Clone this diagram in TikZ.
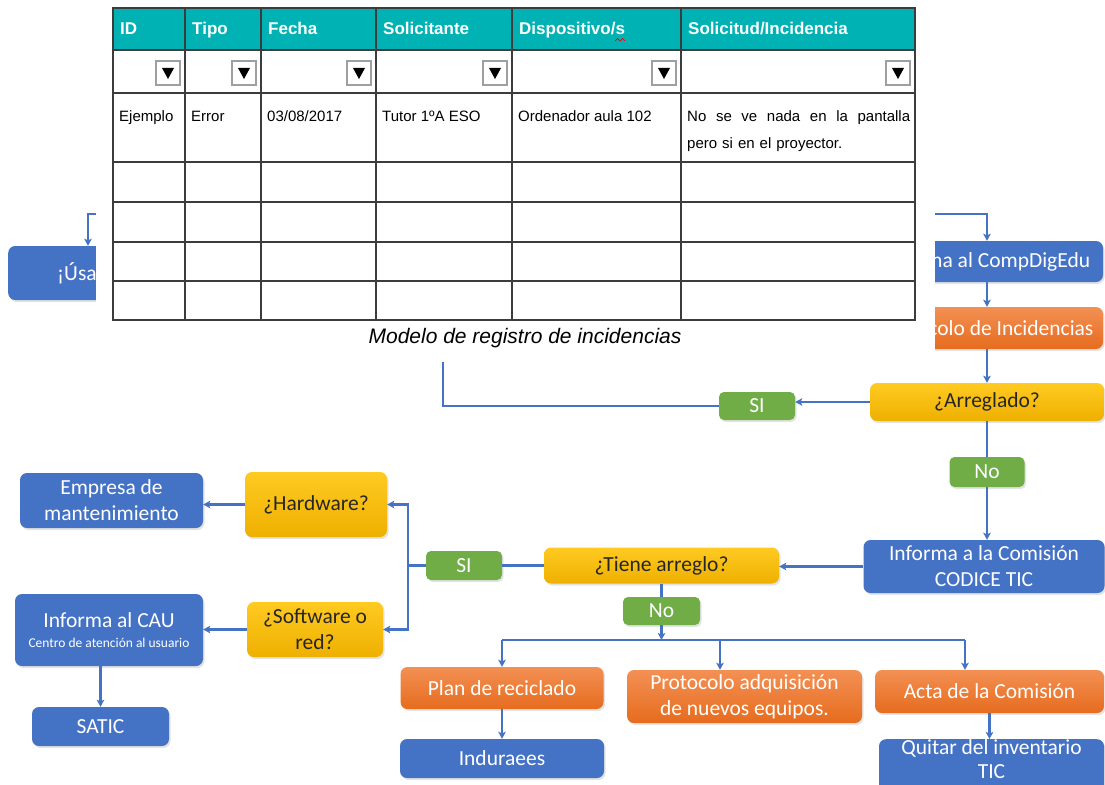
\documentclass[tikz,border=0pt]{standalone}
\usepackage{fontspec}
\setmainfont{Carlito}
\newfontfamily\tabfont{Liberation Sans}
\usetikzlibrary{shapes.geometric, arrows, arrows.meta, shadows}

\definecolor{cblue}{RGB}{68,114,196}
\definecolor{cgreen}{RGB}{112,173,71}
\definecolor{corangeA}{RGB}{243,144,84}
\definecolor{corangeB}{RGB}{230,108,30}
\definecolor{cyellowA}{RGB}{255,202,34}
\definecolor{cyellowB}{RGB}{238,176,0}
\definecolor{cteal}{RGB}{0,178,180}
\definecolor{cgrid}{RGB}{60,60,60}

\tikzstyle{flowbox} = [rounded corners=7pt, inner sep=2pt, align=center, font=\fontsize{21.5}{26}\selectfont, drop shadow={shadow xshift=1.5pt, shadow yshift=-2pt, opacity=0.22}]
\tikzstyle{bluebox} = [flowbox, fill=cblue, text=white]
\tikzstyle{orangebox} = [flowbox, top color=corangeA, bottom color=corangeB, text=white]
\tikzstyle{yellowbox} = [flowbox, top color=cyellowA, bottom color=cyellowB, text=black!85]
\tikzstyle{greenbox} = [flowbox, fill=cgreen, text=white, rounded corners=5pt]
\tikzstyle{conn} = [line width=2.2pt, draw=cblue]
\tikzstyle{arrow} = [conn, -{Stealth[length=7pt, width=7.5pt, inset=1.5pt]}]
\tikzstyle{cell} = [anchor=base west, inner sep=0, font=\tabfont\fontsize{15}{27}\selectfont]
\tikzstyle{headcell} = [anchor=base west, inner sep=0, text=white, font=\tabfont\bfseries\fontsize{17}{20}\selectfont]
\tikzset{sz/.style 2 args={minimum width=#1pt, minimum height=#2pt}}

\begin{document}
\begin{tikzpicture}[x=1pt, y=-1pt]
	\clip (0,0) rectangle (1105,784);
	% flowchart
	\node[bluebox, anchor=west, minimum height=54pt, text width=140pt, align=left, inner xsep=49pt] (usa) at (8,273) {¡Úsa};
	\node[bluebox, sz={232}{41}] (cde) at (987,261.5) {Informa al CompDigEdu};
	\node[orangebox, sz={232}{42}] (proinc) at (987,328) {Protocolo de Incidencias};
	\node[yellowbox, sz={234}{38}] (arreg) at (987,402) {¿Arreglado?};
	\node[greenbox, sz={76}{28}] (si1) at (757,406) {SI};
	\node[greenbox, sz={75}{30}] (no1) at (987,472) {No};
	\node[bluebox, sz={241}{53}] (codice) at (984,566.5) {Informa a la Comisión\\CODICE TIC};
	\node[yellowbox, sz={235}{36}] (tiene) at (661.5,565.5) {¿Tiene arreglo?};
	\node[greenbox, sz={76}{29}] (si2) at (464,565.5) {SI};
	\node[greenbox, sz={77}{28}] (no2) at (661.5,611) {No};
	\node[yellowbox, sz={142}{65}] (hw) at (316,504.5) {¿Hardware?};
	\node[yellowbox, sz={136}{55}] (sw) at (315,629.5) {¿Software o\\red?};
	\node[bluebox, sz={183}{55}] (emp) at (111.5,500.5) {Empresa de\\mantenimiento};
	\node[bluebox, sz={188}{72}] (cau) at (109,630) {Informa al CAU\\[-6pt]{\fontsize{13.5}{15}\selectfont Centro de atención al usuario}};
	\node[bluebox, sz={137}{39}] (satic) at (100.5,726.5) {SATIC};
	\node[orangebox, sz={203}{42}] (plan) at (502,688) {Plan de reciclado};
	\node[orangebox, sz={235}{53}] (protadq) at (744.5,696.5) {Protocolo adquisición\\de nuevos equipos.};
	\node[orangebox, sz={229}{43}] (acta) at (989.5,691.5) {Acta de la Comisión};
	\node[bluebox, minimum width=225pt, anchor=north, inner ysep=0pt, text depth=24pt] (quitar) at (991.5,739) {Quitar del inventario\\[-2pt]TIC};
	\node[bluebox, sz={204}{39}] (ind) at (502,758.5) {Induraees};

	\coordinate (hidL) at (300,214);
	\coordinate (hidR) at (800,214);
	\coordinate (hidC) at (443,300);
	\coordinate (split) at (408,565.5);
	\coordinate (bus) at (661.5,640);
	\coordinate (busL) at (502,640);
	\coordinate (busM) at (720,640);
	\coordinate (busR) at (965,640);

	\draw[arrow] (hidL) -| ([xshift=80pt]usa.north west);
	\draw[arrow] (hidR) -| (cde.north);
	\draw[arrow] (cde) -- (proinc);
	\draw[arrow] (proinc) -- (arreg);
	\draw[arrow] (arreg.west) -- (arreg.west -| si1.east);
	\draw[conn] (si1.west) -| (hidC);
	\draw[conn] (arreg) -- (no1);
	\draw[arrow] (no1) -- (no1 |- codice.north);
	\draw[arrow] (codice.west) -- (codice.west -| tiene.east);
	\draw[conn] (tiene) -- (si2);
	\draw[conn] (si2) -- (split);
	\draw[arrow] (split) |- (hw);
	\draw[arrow] (split) |- (sw);
	\draw[arrow] (hw.west) -- (hw.west -| emp.east);
	\draw[arrow] (sw.west) -- (sw.west -| cau.east);
	\draw[arrow] (cau.south -| satic.north) -- (satic.north);
	\draw[conn] (tiene) -- (no2);
	\draw[conn] (busL) -- (busR);
	\draw[arrow] (no2) -- (bus);
	\draw[arrow] (busL) -- (plan);
	\draw[arrow] (busM) -- (busM |- protadq.north);
	\draw[arrow] (busR) -- (busR |- acta.north);
	\draw[arrow] (plan) -- (ind);
	\draw[arrow] (acta.south) -- (acta.south |- quitar.north);

	% registro de incidencias (tabla)
	\fill[white] (96,0) rectangle (935,362);
	\fill[cteal] (113,8) rectangle (915,50);
	\foreach \y in {50,93,162,202,242,281}
		\draw[cgrid, line width=1.2pt] (113,\y) -- (915,\y);
	\foreach \x in {185,261,376,512,681}
		\draw[cgrid, line width=1.2pt] (\x,8) -- (\x,320);
	\draw[cgrid, line width=1.5pt] (113,8) rectangle (915,320);
	\foreach \x/\t in {113/ID, 185/Tipo, 261/Fecha, 376/Solicitante, 512/{Dispositivo/s}, 681/{Solicitud/Incidencia}}
		\node[headcell] (h\x) at ({\x+7},35) {\t};
	\draw[red, line width=0.7pt] (615,41) -- (617.5,38.5) -- (620,41) -- (622.5,38.5) -- (625,41);
	\foreach \x in {185,261,376,512,681,915} {
		\draw[gray!75, fill=white, line width=1.3pt] ({\x-29},61) rectangle ({\x-5},85);
		\fill[black] ({\x-23},68) -- ({\x-11},68) -- ({\x-17},79) -- cycle;
	}
	\node[cell] (c1) at (119,121) {Ejemplo};
	\node[cell] (c2) at (191,121) {Error};
	\node[cell] (c3) at (267,121) {03/08/2017};
	\node[cell] (c4) at (382,121) {Tutor 1ºA ESO};
	\node[cell] (c5) at (518,121) {Ordenador aula 102};
	\node[cell, anchor=north west, text width=223pt, align=left] (c6) at (687,110) {\makebox[223pt][l]{No\hfill se\hfill ve\hfill nada\hfill en\hfill la\hfill pantalla}\\pero si en el proyector.};
	\node[font=\tabfont\itshape\fontsize{21}{25}\selectfont] (cap) at (525,338) {Modelo de registro de incidencias};
\end{tikzpicture}
\end{document}
